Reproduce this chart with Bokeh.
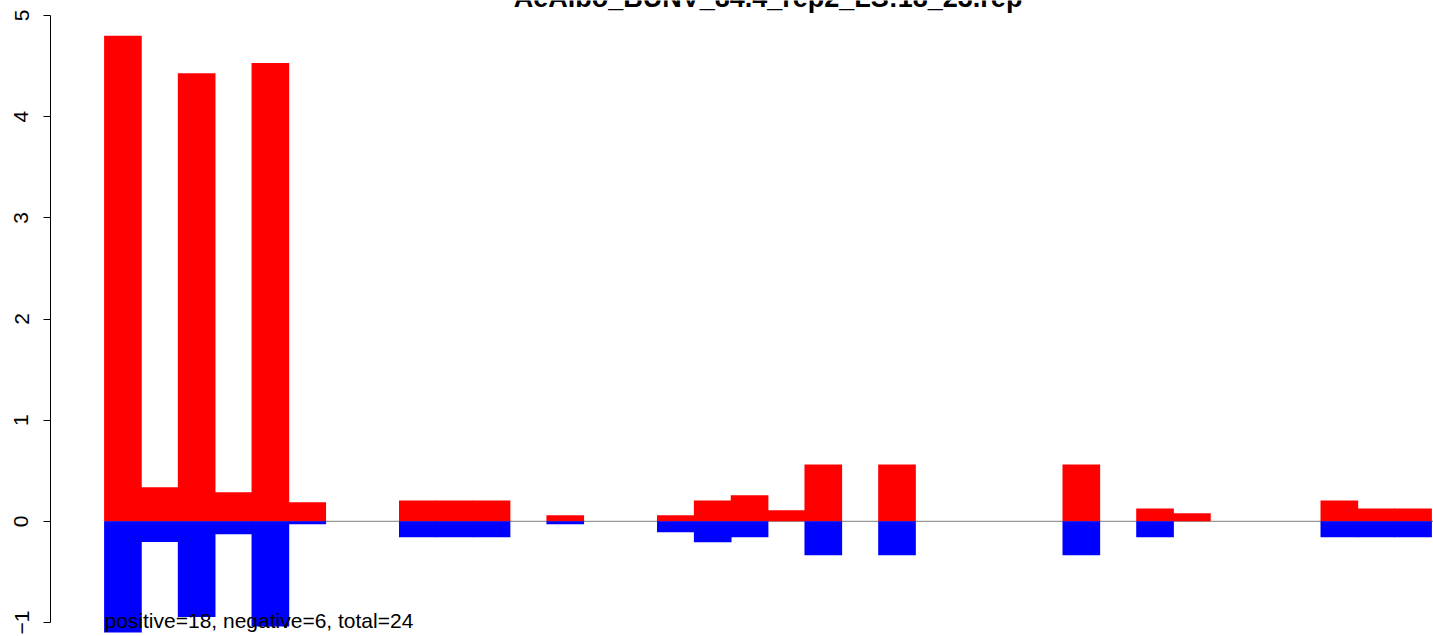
from bokeh.plotting import figure
from bokeh.models import LinearAxis, FixedTicker, Range1d, ColumnDataSource
from bokeh.core.properties import value
from bokeh.embed import file_html
from bokeh.resources import INLINE

# ---- data ----
title = "AeAlbo_BUNV_84.4_rep2_LS:18_23.rep"
note = "positive=18, negative=6, total=24"

positive = [4.80, 0.336, 4.43, 0.287, 4.53, 0.188, 0, 0, 0.207, 0.207, 0.207, 0,
            0.059, 0, 0, 0.059, 0.207, 0.257, 0.109, 0.563, 0, 0.563, 0, 0,
            0, 0, 0.563, 0, 0.128, 0.079, 0, 0, 0, 0.207, 0.128, 0.128]
negative = [-1.10, -0.205, -0.945, -0.128, -1.04, -0.03, 0, 0, -0.158, -0.158, -0.158, 0,
            -0.03, 0, 0, -0.109, -0.207, -0.158, 0, -0.336, 0, -0.336, 0, 0,
            0, 0, -0.336, 0, -0.158, 0, 0, 0, 0, -0.158, -0.158, -0.158]
y_ticks = [-1, 0, 1, 2, 3, 4, 5]
y_tick_labels = ["\u22121", "0", "1", "2", "3", "4", "5"]

# ---- layout (pixels in the figure) ----
W, H = 1433, 636
n = len(positive)
bar_left_px, bar_right_px = 104, 1431
axis_px = 50
px_per_bar = (bar_right_px - bar_left_px) / n
x_start = -bar_left_px / px_per_bar
x_end = x_start + W / px_per_bar
top_tick_px, bottom_tick_px = 15, 622
px_per_unit = (bottom_tick_px - top_tick_px) / (y_ticks[-1] - y_ticks[0])
y_end = y_ticks[-1] + top_tick_px / px_per_unit
y_start = y_end - H / px_per_unit
text_shift_px = 11  # svg text sits this much lower than its anchor

p = figure(width=W, height=H, x_range=Range1d(x_start, x_end), y_range=Range1d(y_start, y_end),
           x_axis_type=None, y_axis_type=None, toolbar_location=None, output_backend="svg",
           min_border=0, outline_line_color=None)
p.background_fill_color = "white"
p.border_fill_color = "white"

src = ColumnDataSource(dict(x=[i + 0.5 for i in range(n)], pos=positive, neg=negative))

# zero line (under the bars)
p.segment(x0=[0], y0=[0], x1=[x_end + 1], y1=[0], line_color="#999999", line_width=1.3)

bar_w = 1 + 0.8 / px_per_bar  # tiny overlap so adjacent bars show no seams
p.vbar(x="x", width=bar_w, bottom=0, top="pos", source=src, fill_color="#FF0000", line_color=None)
p.vbar(x="x", width=bar_w, bottom="neg", top=0, source=src, fill_color="#0000FF", line_color=None)

# y axis, R style: outward ticks, rotated labels, line only over the tick range
yax = LinearAxis(ticker=FixedTicker(ticks=y_ticks), bounds=(y_ticks[0], y_ticks[-1]),
                 fixed_location=x_start + axis_px / px_per_bar)
yax.major_label_overrides = {t: l for t, l in zip(y_ticks, y_tick_labels)}
yax.major_tick_out = 7
yax.major_tick_in = 0
yax.minor_tick_out = 0
yax.minor_tick_in = 0
yax.major_tick_line_color = "black"
yax.axis_line_color = "black"
yax.major_label_orientation = "vertical"
yax.major_label_text_font = "Liberation Sans"
yax.major_label_text_font_size = "21px"
yax.major_label_text_color = "black"
yax.major_label_standoff = 15
p.add_layout(yax, "left")

# title (cut off at the top edge, as in the reference: baseline near y=8)
p.text(x=[n / 2], y=[y_end - (8 - text_shift_px) / px_per_unit], text=[title],
       text_font=value("Liberation Sans"), text_font_style="bold", text_font_size="27px",
       text_align="center", text_baseline="alphabetic", text_color="black")

# bottom note (baseline near y=631)
p.text(x=[0], y=[y_end - (631 - text_shift_px) / px_per_unit], text=[note],
       text_font=value("Liberation Sans"), text_font_size="21px",
       text_align="left", text_baseline="alphabetic", text_color="black")

open("out.html", "w").write(file_html(p, INLINE))
